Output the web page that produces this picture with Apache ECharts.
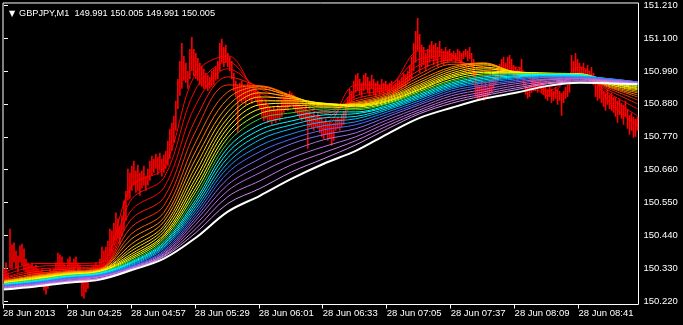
<!DOCTYPE html>
<html>
<head>
<meta charset="utf-8">
<script src="https://cdn.jsdelivr.net/npm/echarts@6/dist/echarts.min.js"></script>
<style>
html,body{margin:0;padding:0;background:#000;}
#c{width:683px;height:325px;}
</style>
</head>
<body>
<div id="c"></div>
<script>
// ---- tick labels ----
const yTicks = [150.22, 150.33, 150.44, 150.55, 150.66, 150.77, 150.88, 150.99, 151.10, 151.21];
const tickBars = [0, 32, 64, 96, 128, 160, 192, 224, 256, 288];
const tickLabels = ['28 Jun 2013', '28 Jun 04:25', '28 Jun 04:57', '28 Jun 05:29', '28 Jun 06:01',
  '28 Jun 06:33', '28 Jun 07:05', '28 Jun 07:37', '28 Jun 08:09', '28 Jun 08:41'];

// ---- price bars (M1), high / low per bar ----
const barHigh = [
150.330,150.350,150.317,150.463,150.410,150.417,150.390,150.373,150.407,150.413,
150.397,150.363,150.350,150.343,150.350,150.337,150.343,150.330,150.323,150.330,
150.317,150.303,150.317,150.330,150.323,150.330,150.350,150.383,150.377,150.370,
150.350,150.337,150.363,150.370,150.350,150.363,150.370,150.350,150.343,150.317,
150.297,150.303,150.317,150.330,150.337,150.343,150.350,150.343,150.363,150.403,
150.390,150.403,150.423,150.463,150.457,150.483,150.517,150.497,150.473,150.507,
150.557,150.590,150.663,150.650,150.673,150.690,150.657,150.677,150.650,150.657,
150.673,150.640,150.663,150.690,150.707,150.697,150.713,150.703,150.717,150.697,
150.710,150.723,150.757,150.797,150.817,150.840,150.890,150.963,151.023,151.083,
151.040,151.017,150.990,151.063,151.103,151.063,151.050,151.033,151.017,151.007,
150.997,150.983,150.977,150.970,150.990,150.997,151.003,151.023,151.083,151.097,
151.070,151.077,151.050,151.037,151.023,150.983,150.957,150.943,150.950,150.957,
150.943,150.937,150.950,150.940,150.930,150.943,150.937,150.923,150.917,150.897,
150.883,150.890,150.877,150.870,150.863,150.873,150.863,150.877,150.870,150.890,
150.903,150.917,150.910,150.923,150.917,150.910,150.903,150.890,150.877,150.870,
150.863,150.877,150.857,150.857,150.843,150.850,150.837,150.850,150.837,150.830,
150.823,150.830,150.817,150.823,150.810,150.817,150.830,150.837,150.830,150.843,
150.857,150.877,150.903,150.930,150.923,150.957,150.977,150.983,150.963,150.950,
150.977,150.983,150.970,150.957,150.977,150.963,150.950,150.957,150.943,150.963,
150.950,150.957,150.943,150.950,150.957,150.943,150.950,150.963,150.957,150.970,
150.983,150.977,150.990,151.010,151.037,151.083,151.123,151.167,151.113,151.077,
151.070,151.050,151.063,151.077,151.090,151.077,151.083,151.070,151.090,151.063,
151.057,151.070,151.057,151.063,151.050,151.057,151.050,151.063,151.057,151.050,
151.057,151.063,151.057,151.070,151.050,151.030,150.990,150.950,150.943,150.957,
150.943,150.950,150.937,150.957,150.963,150.970,150.983,151.003,151.013,151.030,
151.037,151.017,151.037,151.043,151.030,151.010,151.003,150.997,151.003,151.030,
150.983,150.950,150.937,150.943,150.957,150.963,150.957,150.950,150.957,150.950,
150.943,150.937,150.930,150.937,150.930,150.923,150.937,150.930,150.923,150.917,
150.923,150.937,150.943,150.957,151.043,151.023,151.050,151.030,151.017,151.003,
151.017,150.997,151.010,150.990,151.003,150.983,150.957,150.943,150.950,150.937,
150.923,150.917,150.930,150.910,150.917,150.903,150.903,150.890,150.897,150.883,
150.877,150.890,150.863,150.843,150.850,150.837,150.830,150.837];
const barLow = [
150.280,150.290,150.283,150.330,150.330,150.350,150.330,150.317,150.350,150.340,
150.323,150.317,150.307,150.297,150.310,150.297,150.303,150.290,150.293,150.283,
150.257,150.243,150.263,150.290,150.297,150.297,150.303,150.323,150.317,150.323,
150.310,150.303,150.317,150.323,150.310,150.317,150.330,150.310,150.283,150.237,
150.230,150.250,150.263,150.297,150.303,150.310,150.317,150.310,150.323,150.337,
150.330,150.350,150.350,150.370,150.383,150.407,150.423,150.430,150.410,150.437,
150.457,150.490,150.557,150.563,150.590,150.607,150.583,150.590,150.573,150.597,
150.607,150.590,150.607,150.623,150.640,150.650,150.663,150.643,150.657,150.637,
150.650,150.663,150.673,150.697,150.723,150.750,150.790,150.863,150.907,150.930,
150.957,150.950,150.930,150.963,150.990,150.973,150.963,150.957,150.943,150.937,
150.930,150.930,150.923,150.930,150.937,150.943,150.957,150.963,150.990,151.017,
151.003,151.017,151.003,150.990,150.963,150.923,150.903,150.783,150.890,150.883,
150.890,150.877,150.897,150.890,150.880,150.897,150.890,150.877,150.863,150.837,
150.823,150.830,150.817,150.823,150.810,150.823,150.817,150.830,150.823,150.837,
150.850,150.863,150.857,150.870,150.877,150.863,150.850,150.843,150.830,150.823,
150.830,150.823,150.730,150.803,150.797,150.790,150.803,150.797,150.783,150.770,
150.763,150.777,150.757,150.763,150.740,150.757,150.790,150.797,150.790,150.803,
150.810,150.830,150.857,150.877,150.870,150.897,150.917,150.923,150.910,150.903,
150.923,150.930,150.917,150.910,150.930,150.910,150.903,150.917,150.910,150.917,
150.910,150.923,150.910,150.917,150.923,150.903,150.917,150.923,150.930,150.930,
150.937,150.937,150.950,150.957,150.963,150.990,151.017,151.057,150.983,151.003,
151.010,150.990,151.003,151.017,151.030,151.010,151.023,151.003,151.037,151.017,
151.010,151.023,151.017,151.023,151.023,151.030,151.017,151.030,151.023,151.017,
151.030,151.037,151.023,151.030,151.003,150.970,150.903,150.890,150.897,150.903,
150.890,150.903,150.897,150.910,150.917,150.930,150.943,150.957,150.977,150.983,
150.990,150.983,150.990,150.997,150.983,150.970,150.963,150.957,150.963,150.970,
150.937,150.910,150.897,150.903,150.917,150.923,150.923,150.917,150.930,150.917,
150.910,150.897,150.890,150.903,150.883,150.890,150.897,150.877,150.890,150.840,
150.883,150.897,150.903,150.917,150.963,150.970,150.983,150.977,150.970,150.963,
150.970,150.957,150.963,150.950,150.963,150.943,150.903,150.890,150.897,150.883,
150.870,150.857,150.877,150.863,150.857,150.850,150.837,150.817,150.843,150.830,
150.810,150.837,150.797,150.777,150.790,150.767,150.770,150.790];

// ---- rainbow moving averages, read at these bar positions ----
const maIdx = [0,16,32,48,64,80,96,112,128,144,160,176,192,208,224,240,256,272,288,304,317];
const L01 = [150.317,150.347,150.347,150.350,150.607,150.667,150.983,151.040,150.903,150.880,150.797,150.943,150.943,151.057,151.043,150.923,151.003,150.907,151.003,150.877,150.807];
const L02 = [150.307,150.337,150.340,150.340,150.563,150.633,150.930,151.020,150.917,150.887,150.817,150.923,150.937,151.030,151.040,150.950,150.990,150.923,150.983,150.897,150.840];
const L03 = [150.300,150.327,150.333,150.335,150.527,150.600,150.877,150.997,150.930,150.893,150.833,150.907,150.930,151.010,151.033,150.973,150.983,150.937,150.973,150.910,150.863];
const L04 = [150.297,150.320,150.328,150.332,150.497,150.567,150.830,150.970,150.937,150.900,150.847,150.897,150.923,150.993,151.027,150.990,150.980,150.950,150.967,150.920,150.880];
const L05 = [150.293,150.313,150.323,150.330,150.470,150.540,150.790,150.943,150.940,150.903,150.857,150.890,150.917,150.980,151.020,151.003,150.980,150.960,150.965,150.927,150.893];
const L06 = [150.290,150.308,150.320,150.328,150.447,150.517,150.753,150.920,150.940,150.907,150.867,150.885,150.912,150.970,151.012,151.013,150.982,150.967,150.967,150.932,150.903];
const L07 = [150.288,150.305,150.318,150.327,150.430,150.500,150.723,150.897,150.937,150.907,150.873,150.882,150.907,150.960,151.003,151.017,150.983,150.972,150.970,150.935,150.910];
const L08 = [150.287,150.303,150.317,150.325,150.413,150.487,150.697,150.873,150.930,150.905,150.877,150.880,150.903,150.952,150.997,151.015,150.985,150.975,150.973,150.938,150.917];
const L09 = [150.287,150.302,150.315,150.323,150.400,150.473,150.673,150.853,150.917,150.902,150.880,150.878,150.900,150.945,150.990,151.010,150.987,150.978,150.975,150.942,150.922];
const L10 = [150.285,150.300,150.313,150.323,150.390,150.463,150.653,150.833,150.903,150.897,150.882,150.877,150.897,150.940,150.983,151.003,150.987,150.980,150.977,150.943,150.927];
const L11 = [150.283,150.298,150.312,150.322,150.380,150.453,150.633,150.817,150.890,150.890,150.882,150.875,150.893,150.935,150.977,150.997,150.987,150.982,150.978,150.947,150.930];
const L12 = [150.283,150.297,150.310,150.320,150.373,150.443,150.617,150.800,150.877,150.882,150.880,150.873,150.890,150.930,150.972,150.990,150.985,150.982,150.980,150.948,150.933];
const L13 = [150.282,150.295,150.310,150.320,150.367,150.437,150.600,150.783,150.863,150.873,150.877,150.870,150.887,150.927,150.967,150.985,150.983,150.982,150.980,150.950,150.937];
const L14 = [150.280,150.293,150.308,150.318,150.362,150.430,150.587,150.767,150.847,150.863,150.870,150.865,150.883,150.922,150.960,150.980,150.982,150.980,150.980,150.952,150.940];
const L15 = [150.280,150.292,150.307,150.317,150.357,150.423,150.573,150.750,150.830,150.850,150.863,150.860,150.880,150.917,150.955,150.975,150.980,150.980,150.978,150.953,150.943];
const L16 = [150.278,150.290,150.305,150.315,150.353,150.417,150.560,150.733,150.810,150.837,150.853,150.853,150.875,150.912,150.950,150.970,150.977,150.978,150.977,150.958,150.948];
const L17 = [150.277,150.288,150.303,150.313,150.350,150.412,150.550,150.717,150.793,150.823,150.843,150.847,150.870,150.907,150.945,150.965,150.973,150.977,150.975,150.960,150.950];
const L18 = [150.277,150.287,150.302,150.312,150.347,150.407,150.540,150.700,150.777,150.810,150.833,150.838,150.865,150.902,150.940,150.960,150.970,150.975,150.973,150.962,150.952];
const L19 = [150.275,150.285,150.300,150.310,150.343,150.402,150.530,150.683,150.760,150.797,150.820,150.830,150.860,150.897,150.935,150.955,150.967,150.973,150.972,150.963,150.953];
const L20 = [150.273,150.283,150.298,150.308,150.340,150.397,150.520,150.667,150.740,150.780,150.807,150.820,150.853,150.890,150.930,150.950,150.963,150.970,150.970,150.963,150.953];
const L21 = [150.272,150.282,150.297,150.307,150.337,150.390,150.510,150.650,150.720,150.763,150.793,150.810,150.845,150.883,150.923,150.943,150.958,150.967,150.967,150.962,150.953];
const L22 = [150.270,150.280,150.295,150.305,150.335,150.385,150.500,150.630,150.697,150.747,150.777,150.797,150.837,150.877,150.915,150.937,150.953,150.963,150.965,150.960,150.952];
const L23 = [150.268,150.278,150.293,150.303,150.333,150.380,150.490,150.610,150.673,150.723,150.760,150.783,150.827,150.868,150.907,150.928,150.947,150.960,150.963,150.958,150.950];
const L24 = [150.267,150.277,150.290,150.302,150.332,150.377,150.477,150.590,150.650,150.700,150.737,150.770,150.817,150.860,150.898,150.920,150.940,150.955,150.960,150.957,150.950];
const L25 = [150.265,150.275,150.288,150.298,150.330,150.373,150.463,150.570,150.623,150.677,150.717,150.757,150.807,150.853,150.890,150.913,150.933,150.950,150.957,150.955,150.948];
const L26 = [150.263,150.273,150.287,150.297,150.328,150.370,150.450,150.547,150.597,150.653,150.697,150.743,150.797,150.847,150.882,150.907,150.927,150.947,150.953,150.952,150.947];
const LW  = [150.260,150.270,150.283,150.293,150.325,150.363,150.433,150.520,150.573,150.630,150.680,150.723,150.780,150.833,150.867,150.897,150.917,150.940,150.950,150.948,150.945];

const maLines = [L01,L02,L03,L04,L05,L06,L07,L08,L09,L10,L11,L12,L13,L14,L15,L16,L17,L18,L19,L20,L21,L22,L23,L24,L25,L26,LW];
const maColors = ['#ff0000','#ff0000','#ff0000','#ff1800','#ff3000','#ff5a00','#ff7f00','#ff9f00','#ffbf00','#ffd700',
  '#ffea00','#ffff00','#ffff00','#b4ff1e','#32cd32','#00ffff','#00ffff','#00e5ff','#00bfff','#1e90ff',
  '#4b6bff','#8a6cf0','#a66ae6','#bb6ee6','#c87ae8','#d08cf0','#ffffff'];

const FONT = 'Liberation Sans, Arial, sans-serif';
const chart = echarts.init(document.getElementById('c'), null, {renderer: 'canvas'});

// price bars: one vertical segment per bar (low -> high), separated by gaps
const barSegs = [];
barHigh.forEach((h, i) => {
  barSegs.push([i, barLow[i]], [i, h], [i, null]);
});

const series = [{
  type: 'line', z: 2, silent: true,
  data: barSegs,
  connectNulls: false,
  showSymbol: false, symbol: 'none',
  lineStyle: {color: '#ff0000', width: 1.6},
  emphasis: {disabled: true}
}];
maLines.forEach((arr, k) => {
  series.push({
    type: 'line', z: 3 + k,
    data: maIdx.map((b, j) => [b, arr[j]]),
    showSymbol: false, smooth: 0.35,
    lineStyle: {color: maColors[k], width: k === maLines.length - 1 ? 2 : 1},
    emphasis: {disabled: true}, silent: true
  });
});

chart.setOption({
  animation: false,
  backgroundColor: '#000000',
  title: [
    {text: '▼', left: 4, top: 5, textStyle: {color: '#ffffff', fontSize: 8, fontWeight: 'normal', fontFamily: 'DejaVu Sans'}},
    {text: 'GBPJPY,M1  149.991 150.005 149.991 150.005', left: 14, top: 4,
     textStyle: {color: '#ffffff', fontSize: 9.2, fontWeight: 'normal', fontFamily: FONT}}
  ],
  grid: {left: 2.5, top: 2.5, right: 44.5, bottom: 20.5, show: true, borderColor: '#ffffff', borderWidth: 1, backgroundColor: 'transparent'},
  xAxis: {
    type: 'value', min: -0.5, max: 317.5,
    axisLine: {show: false},
    splitLine: {show: false},
    axisTick: {show: true, customValues: tickBars.map(b => b - 0.5), length: 4, lineStyle: {color: '#ffffff'}},
    axisLabel: {
      customValues: tickBars.map(b => b - 0.5),
      formatter: v => tickLabels[tickBars.indexOf(Math.round(v + 0.5))],
      color: '#ffffff', fontSize: 9.5, fontFamily: FONT, align: 'left', margin: 4
    }
  },
  yAxis: {
    type: 'value', position: 'right', min: 150.21, max: 151.2167,
    axisLine: {show: false},
    splitLine: {show: false},
    axisTick: {show: true, customValues: yTicks, length: 4, lineStyle: {color: '#ffffff'}},
    axisLabel: {customValues: yTicks, formatter: v => v.toFixed(3), color: '#ffffff', fontSize: 9.5, fontFamily: FONT, margin: 5}
  },
  series: series
});
</script>
</body>
</html>
